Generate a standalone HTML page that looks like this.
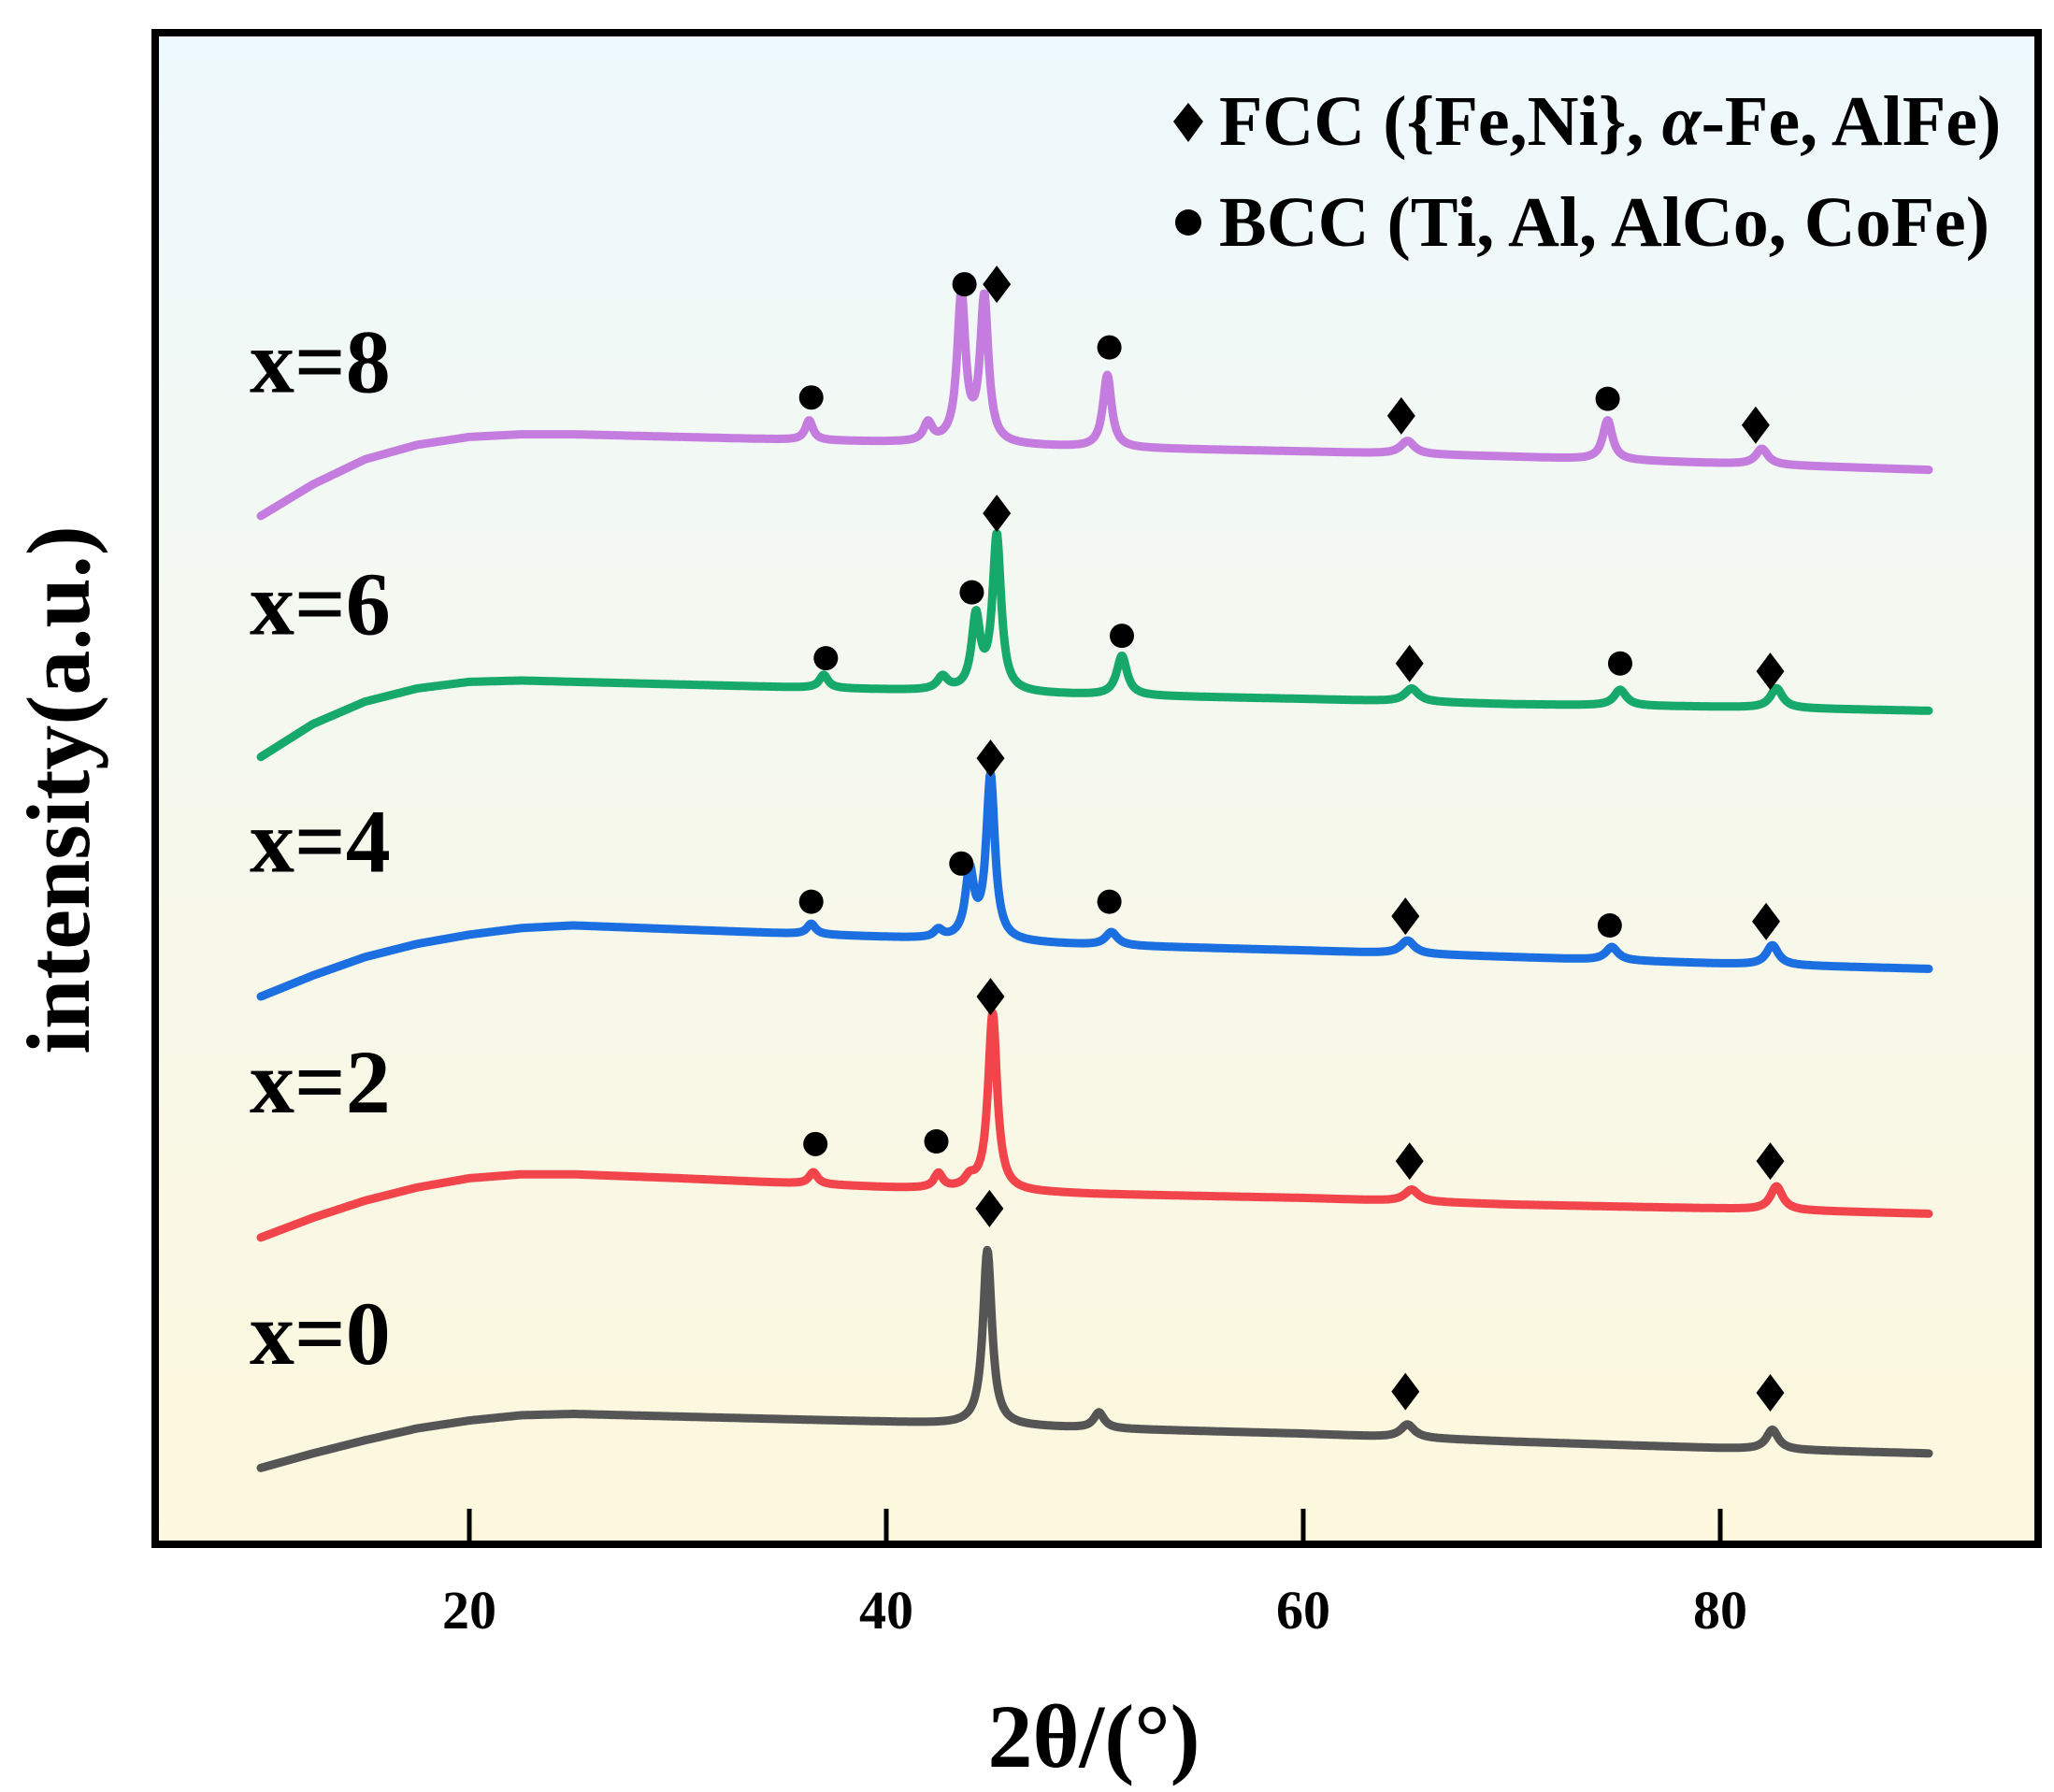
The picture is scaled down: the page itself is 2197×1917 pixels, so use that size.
<!DOCTYPE html>
<html><head><meta charset="utf-8"><style>
html,body{margin:0;padding:0;background:#fff;}
svg{display:block;}
text{font-family:"Liberation Serif",serif;font-weight:bold;fill:#000;}
</style></head><body>
<svg id="chart" width="2197" height="1917" viewBox="0 0 2197 1917" xmlns="http://www.w3.org/2000/svg">
<defs>
<linearGradient id="bg" x1="0" y1="0" x2="0" y2="1">
<stop offset="0" stop-color="#eef9fd"/>
<stop offset="1" stop-color="#fdf8dd"/>
</linearGradient>
</defs>
<rect x="166" y="35" width="2014" height="1617" fill="url(#bg)"/>
<g id="series"></g>
<g id="markers"></g>
<g id="ticks"></g>
<rect x="166" y="35" width="2014" height="1617" fill="none" stroke="#000" stroke-width="8"/>
<text x="1170" y="1890" font-size="96" text-anchor="middle">2θ/(°)</text>
<text transform="translate(95,845) rotate(-90)" font-size="96" text-anchor="middle">intensity(a.u.)</text>
<g>
<path d="M1271,110 L1287,130 L1271,152 L1255,130 Z" fill="#000"/>
<text x="1304" y="155" font-size="76">FCC ({Fe,Ni}, <tspan font-style="italic">α</tspan>-Fe, AlFe)</text>
<circle cx="1271" cy="238" r="14" fill="#000"/>
<text x="1304" y="263" font-size="76">BCC (Ti, Al, AlCo, CoFe)</text>
</g>
<g id="labels"></g>
</svg>
<script>
// x axis (2θ) and y axis (a.u.)
const xTicks = [20, 40, 60, 80];
const seriesNames = ["x=0", "x=2", "x=4", "x=6", "x=8"];
const seriesColors = ["#555555", "#f2454b", "#1b6fe0", "#17a86b", "#c47ddf"];
// baseline key points per series: angles and values
const baseAngles = [10, 12.5, 15, 17.5, 20, 22.5, 25, 30, 40, 50, 60, 70, 80, 90];
const base0 = [58, 69, 79, 88, 94, 98, 99, 97, 93, 88, 84, 78, 73, 69];
const base2 = [233, 248, 261, 271, 278, 281, 281, 278, 271, 266, 263, 258, 255, 251];
const base4 = [416, 432, 446, 456, 463, 468, 470, 467, 461, 455, 451, 446, 441, 437];
const base6 = [598, 623, 640, 650, 655, 656, 655, 653, 649, 645, 642, 638, 636, 633];
const base8 = [781, 805, 824, 835, 841, 843, 843, 841, 837, 833, 830, 826, 821, 816];
// peaks per series: centers, heights, half-widths
const peakPos0 = [44.85, 50.2, 65.0, 82.5];
const peakH0 = [133, 12, 10, 15];
const peakW0 = [0.26, 0.3, 0.4, 0.35];
const peakPos2 = [36.5, 42.5, 44.0, 45.1, 65.2, 82.7];
const peakH2 = [9, 11, 7, 135, 9, 18];
const peakW2 = [0.25, 0.25, 0.3, 0.26, 0.4, 0.35];
const peakPos4 = [36.4, 42.5, 44.0, 45.0, 50.8, 65.0, 74.8, 82.5];
const peakH4 = [8, 6, 50, 125, 10, 10, 10, 15];
const peakW4 = [0.25, 0.25, 0.25, 0.25, 0.35, 0.4, 0.35, 0.35];
const peakPos6 = [37.0, 42.7, 44.3, 45.3, 51.3, 65.2, 75.2, 82.7];
const peakH6 = [10, 10, 55, 118, 30, 10, 12, 15];
const peakW6 = [0.25, 0.3, 0.25, 0.25, 0.3, 0.4, 0.35, 0.35];
const peakPos8 = [36.3, 42.0, 43.6, 44.7, 50.6, 65.0, 74.6, 82.0];
const peakH8 = [15, 14, 112, 110, 55, 10, 30, 12];
const peakW8 = [0.22, 0.25, 0.24, 0.24, 0.25, 0.4, 0.28, 0.35];
// markers: type (d=diamond, c=circle), angle, value
const mk0Type = ["d", "d", "d"];
const mk0X = [44.95, 64.9, 82.4];
const mk0Y = [255, 116, 115];
const mk2Type = ["c", "c", "d", "d", "d"];
const mk2X = [36.6, 42.4, 45.0, 65.1, 82.4];
const mk2Y = [304, 306, 416, 291, 291];
const mk4Type = ["c", "c", "d", "c", "d", "c", "d"];
const mk4X = [36.4, 43.6, 45.0, 50.7, 64.9, 74.7, 82.2];
const mk4Y = [488, 517, 597, 488, 477, 470, 473];
const mk6Type = ["c", "c", "d", "c", "d", "c", "d"];
const mk6X = [37.1, 44.1, 45.3, 51.3, 65.1, 75.2, 82.4];
const mk6Y = [673, 723, 783, 690, 669, 669, 663];
const mk8Type = ["c", "c", "d", "c", "d", "c", "d"];
const mk8X = [36.4, 43.75, 45.3, 50.7, 64.7, 74.6, 81.7];
const mk8Y = [871, 957, 957, 909, 857, 870, 850];
const labelY = [137, 328, 511, 691, 875];

const NS = "http://www.w3.org/2000/svg";
function xS(a){ return 279 + (a - 10) * 22.3; }
function yS(v){ return 1652 - v * 1.4085; }
function interp(xs, ys, x){
  for (let i = 0; i < xs.length - 1; i++) {
    if (x <= xs[i+1]) { const t = (x - xs[i]) / (xs[i+1] - xs[i]); return ys[i] + t * (ys[i+1] - ys[i]); }
  }
  return ys[ys.length - 1];
}
const bases = [base0, base2, base4, base6, base8];
const pp = [peakPos0, peakPos2, peakPos4, peakPos6, peakPos8];
const ph = [peakH0, peakH2, peakH4, peakH6, peakH8];
const pw = [peakW0, peakW2, peakW4, peakW6, peakW8];
const mt = [mk0Type, mk2Type, mk4Type, mk6Type, mk8Type];
const mx = [mk0X, mk2X, mk4X, mk6X, mk8X];
const my = [mk0Y, mk2Y, mk4Y, mk6Y, mk8Y];

const gS = document.getElementById("series");
const gM = document.getElementById("markers");
const gL = document.getElementById("labels");
const gT = document.getElementById("ticks");

for (let s = 0; s < 5; s++) {
  let d = "";
  for (let a = 10; a <= 90.001; a += 0.04) {
    let v = interp(baseAngles, bases[s], a);
    for (let k = 0; k < pp[s].length; k++) {
      const u = (a - pp[s][k]) / pw[s][k];
      v += ph[s][k] / (1 + u * u);
    }
    d += (d ? "L" : "M") + xS(a).toFixed(1) + "," + yS(v).toFixed(1);
  }
  const p = document.createElementNS(NS, "path");
  p.setAttribute("d", d);
  p.setAttribute("fill", "none");
  p.setAttribute("stroke", seriesColors[s]);
  p.setAttribute("stroke-width", "9");
  p.setAttribute("stroke-linejoin", "round");
  p.setAttribute("stroke-linecap", "round");
  
  
  gS.appendChild(p);

  for (let k = 0; k < mt[s].length; k++) {
    const cx = xS(mx[s][k]), cy = yS(my[s][k]);
    let m;
    if (mt[s][k] === "d") {
      m = document.createElementNS(NS, "path");
      m.setAttribute("d", "M" + cx + "," + (cy - 20) + " L" + (cx + 15) + "," + cy + " L" + cx + "," + (cy + 20) + " L" + (cx - 15) + "," + cy + " Z");
      
    } else {
      m = document.createElementNS(NS, "circle");
      m.setAttribute("cx", cx); m.setAttribute("cy", cy); m.setAttribute("r", 13);
      
    }
    m.setAttribute("fill", "#000");
    
    gM.appendChild(m);
  }

  const t = document.createElementNS(NS, "text");
  t.setAttribute("x", 267);
  t.setAttribute("y", yS(labelY[s]));
  t.setAttribute("font-size", "96");
  t.textContent = seriesNames[s];
  
  
  gL.appendChild(t);
}

for (const v of xTicks) {
  const l = document.createElementNS(NS, "line");
  l.setAttribute("x1", xS(v)); l.setAttribute("x2", xS(v));
  l.setAttribute("y1", 1652); l.setAttribute("y2", 1614);
  l.setAttribute("stroke", "#000"); l.setAttribute("stroke-width", "5");
  
  
  gT.appendChild(l);
  const t = document.createElementNS(NS, "text");
  t.setAttribute("x", xS(v)); t.setAttribute("y", 1742);
  t.setAttribute("font-size", "58"); t.setAttribute("text-anchor", "middle");
  t.textContent = v;
  
  
  gT.appendChild(t);
}
</script>
</body></html>
